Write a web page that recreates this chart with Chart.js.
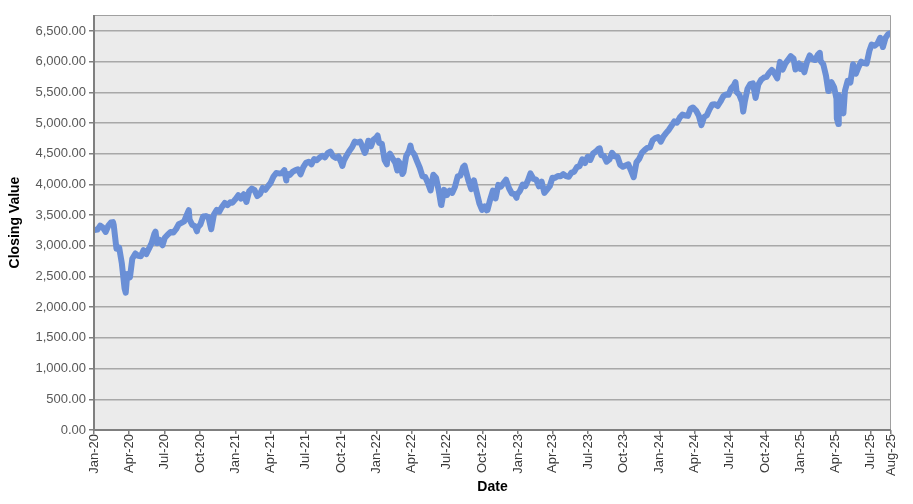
<!DOCTYPE html>
<html>
<head>
<meta charset="utf-8">
<script src="https://cdn.jsdelivr.net/npm/chart.js@4.4.1/dist/chart.umd.min.js"></script>
<style>
  html, body { margin: 0; padding: 0; background: #fff; }
  #wrap { width: 913px; height: 504px; }
</style>
</head>
<body>
<div id="wrap"><canvas id="closeChart" width="913" height="504"></canvas></div>
<script>
// trading dates (roughly weekly) and closing values
const dates = [
  '2020-01-02','2020-01-10','2020-01-17','2020-01-24','2020-01-31','2020-02-07','2020-02-14','2020-02-19','2020-02-21','2020-02-28',
  '2020-03-06','2020-03-13','2020-03-20','2020-03-23','2020-03-27','2020-04-03','2020-04-09','2020-04-17','2020-04-24','2020-05-01',
  '2020-05-08','2020-05-15','2020-05-22','2020-05-29','2020-06-05','2020-06-08','2020-06-12','2020-06-19','2020-06-26','2020-07-02',
  '2020-07-10','2020-07-17','2020-07-24','2020-07-31','2020-08-07','2020-08-14','2020-08-21','2020-08-28','2020-09-02','2020-09-04',
  '2020-09-11','2020-09-18','2020-09-23','2020-09-25','2020-10-02','2020-10-09','2020-10-16','2020-10-23','2020-10-30','2020-11-06',
  '2020-11-13','2020-11-20','2020-11-27','2020-12-04','2020-12-11','2020-12-18','2020-12-24','2020-12-31',
  '2021-01-08','2021-01-15','2021-01-22','2021-01-29','2021-02-05','2021-02-12','2021-02-19','2021-02-26','2021-03-05','2021-03-12',
  '2021-03-19','2021-03-26','2021-04-01','2021-04-09','2021-04-16','2021-04-23','2021-04-30','2021-05-07','2021-05-12','2021-05-14',
  '2021-05-21','2021-05-28','2021-06-04','2021-06-11','2021-06-18','2021-06-25','2021-07-02','2021-07-09','2021-07-16','2021-07-23',
  '2021-07-30','2021-08-06','2021-08-13','2021-08-20','2021-08-27','2021-09-03','2021-09-10','2021-09-17','2021-09-24','2021-10-01',
  '2021-10-04','2021-10-08','2021-10-15','2021-10-22','2021-10-29','2021-11-05','2021-11-12','2021-11-19','2021-11-26','2021-12-01',
  '2021-12-03','2021-12-10','2021-12-17','2021-12-23','2021-12-31',
  '2022-01-03','2022-01-07','2022-01-14','2022-01-21','2022-01-27','2022-01-28','2022-02-04','2022-02-11','2022-02-18','2022-02-23',
  '2022-02-25','2022-03-04','2022-03-08','2022-03-11','2022-03-18','2022-03-25','2022-03-29','2022-04-01','2022-04-08','2022-04-14',
  '2022-04-22','2022-04-29','2022-05-06','2022-05-13','2022-05-20','2022-05-27','2022-06-03','2022-06-10','2022-06-16','2022-06-17',
  '2022-06-24','2022-07-01','2022-07-08','2022-07-15','2022-07-22','2022-07-29','2022-08-05','2022-08-12','2022-08-16','2022-08-19',
  '2022-08-26','2022-09-02','2022-09-09','2022-09-16','2022-09-23','2022-09-30','2022-10-07','2022-10-12','2022-10-14','2022-10-21',
  '2022-10-28','2022-11-04','2022-11-11','2022-11-18','2022-11-25','2022-12-01','2022-12-09','2022-12-16','2022-12-23','2022-12-28',
  '2022-12-30',
  '2023-01-06','2023-01-13','2023-01-20','2023-01-27','2023-02-02','2023-02-10','2023-02-17','2023-02-24','2023-03-03','2023-03-10',
  '2023-03-17','2023-03-24','2023-03-31','2023-04-06','2023-04-14','2023-04-21','2023-04-28','2023-05-05','2023-05-12','2023-05-19',
  '2023-05-26','2023-06-02','2023-06-09','2023-06-16','2023-06-23','2023-06-30','2023-07-07','2023-07-14','2023-07-21','2023-07-28',
  '2023-07-31','2023-08-04','2023-08-11','2023-08-18','2023-08-25','2023-09-01','2023-09-08','2023-09-15','2023-09-22','2023-09-29',
  '2023-10-06','2023-10-13','2023-10-20','2023-10-27','2023-11-03','2023-11-10','2023-11-17','2023-11-24','2023-12-01','2023-12-08',
  '2023-12-15','2023-12-22','2023-12-29',
  '2024-01-05','2024-01-12','2024-01-19','2024-01-26','2024-02-02','2024-02-09','2024-02-16','2024-02-23','2024-03-01','2024-03-08',
  '2024-03-15','2024-03-22','2024-03-28','2024-04-05','2024-04-12','2024-04-19','2024-04-26','2024-05-03','2024-05-10','2024-05-17',
  '2024-05-24','2024-05-31','2024-06-07','2024-06-14','2024-06-21','2024-06-28','2024-07-05','2024-07-12','2024-07-16','2024-07-19',
  '2024-07-26','2024-08-02','2024-08-05','2024-08-09','2024-08-16','2024-08-23','2024-08-30','2024-09-06','2024-09-13','2024-09-20',
  '2024-09-27','2024-10-04','2024-10-11','2024-10-18','2024-10-25','2024-11-01','2024-11-08','2024-11-15','2024-11-22','2024-11-29',
  '2024-12-06','2024-12-13','2024-12-18','2024-12-20','2024-12-27','2024-12-31',
  '2025-01-03','2025-01-10','2025-01-17','2025-01-24','2025-01-31','2025-02-07','2025-02-14','2025-02-19','2025-02-21','2025-02-28',
  '2025-03-07','2025-03-13','2025-03-14','2025-03-21','2025-03-28','2025-04-03','2025-04-04','2025-04-08','2025-04-09','2025-04-11',
  '2025-04-17','2025-04-21','2025-04-25','2025-05-02','2025-05-09','2025-05-16','2025-05-23','2025-05-30','2025-06-06','2025-06-13',
  '2025-06-20','2025-06-27','2025-07-03','2025-07-11','2025-07-18','2025-07-25','2025-08-01','2025-08-08','2025-08-15','2025-08-22'
];
const closes = [
  3258,3265,3330,3295,3226,3328,3380,3386,3338,2954,
  2972,2711,2305,2237,2541,2489,2790,2875,2837,2831,
  2930,2864,2955,3044,3194,3232,3041,3098,3009,3130,
  3185,3225,3216,3271,3351,3373,3397,3508,3580,3427,
  3341,3319,3237,3298,3348,3477,3484,3465,3270,3510,
  3585,3558,3638,3699,3663,3709,3703,3756,
  3825,3768,3841,3714,3887,3934,3907,3811,3842,3943,
  3913,3975,4020,4129,4185,4180,4181,4233,4063,4174,
  4156,4204,4230,4247,4166,4281,4352,4370,4327,4412,
  4395,4437,4468,4442,4509,4535,4459,4433,4455,4357,
  4300,4391,4471,4545,4605,4697,4683,4698,4595,4513,
  4538,4712,4621,4726,4766,
  4797,4677,4663,4398,4327,4432,4501,4419,4349,4226,
  4385,4329,4171,4204,4463,4543,4632,4546,4488,4393,
  4272,4132,4123,4024,3901,4158,4109,3901,3667,3675,
  3912,3825,3899,3863,3962,4130,4145,4280,4305,4228,
  4058,3924,4067,3873,3693,3586,3640,3577,3583,3753,
  3901,3771,3993,3965,4026,4077,3934,3852,3845,3783,
  3840,
  3895,3999,3973,4071,4180,4090,4079,3970,4046,3862,
  3917,3971,4109,4105,4138,4133,4169,4136,4124,4192,
  4205,4282,4299,4410,4348,4450,4399,4505,4536,4582,
  4589,4478,4464,4370,4406,4516,4457,4450,4320,4288,
  4309,4328,4224,4117,4358,4415,4514,4559,4595,4604,
  4719,4755,4770,
  4697,4784,4840,4891,4959,5027,5006,5089,5137,5124,
  5117,5234,5254,5204,5123,4967,5100,5128,5223,5303,
  5305,5278,5347,5432,5465,5460,5567,5615,5667,5505,
  5459,5346,5186,5344,5554,5635,5648,5408,5626,5703,
  5738,5751,5815,5865,5808,5729,5996,5871,5969,6032,
  6090,6051,5872,5931,5971,5882,
  5942,5827,5997,6101,6041,6026,6115,6144,6013,5955,
  5770,5522,5639,5668,5581,5397,5074,4983,5457,5363,
  5283,5158,5525,5687,5660,5958,5803,5912,6000,5977,
  5967,6173,6279,6260,6297,6389,6238,6389,6450,6467
];
// x axis labels: quarter starts plus the last day
const tickDates = [
  '2020-01-01','2020-04-01','2020-07-01','2020-10-01','2021-01-01','2021-04-01','2021-07-01','2021-10-01',
  '2022-01-01','2022-04-01','2022-07-01','2022-10-01','2023-01-01','2023-04-01','2023-07-01','2023-10-01',
  '2024-01-01','2024-04-01','2024-07-01','2024-10-01','2025-01-01','2025-04-01','2025-07-01','2025-08-22'
];
const yTicks = [0,500,1000,1500,2000,2500,3000,3500,4000,4500,5000,5500,6000,6500];

const MONTHS = ['Jan','Feb','Mar','Apr','May','Jun','Jul','Aug','Sep','Oct','Nov','Dec'];
const BASE = Date.UTC(2020, 0, 1);
function dayNum(s) {
  const p = s.split('-').map(Number);
  return (Date.UTC(p[0], p[1] - 1, p[2]) - BASE) / 86400000;
}
function monLabel(s) {
  const p = s.split('-').map(Number);
  return MONTHS[p[1] - 1] + '-' + String(p[0]).slice(2);
}

const points = dates.map((d, i) => ({ x: dayNum(d), y: closes[i] }));
const tickDays = tickDates.map(dayNum);
const tickText = {};
tickDates.forEach(d => { tickText[dayNum(d)] = monLabel(d); });

// grey plot background and frame
const plotFrame = {
  id: 'plotFrame',
  beforeDraw(chart) {
    const { ctx, chartArea: a } = chart;
    ctx.save();
    ctx.fillStyle = '#ebebeb';
    ctx.fillRect(a.left, a.top, a.right - a.left, a.bottom - a.top);
    ctx.restore();
  },
  afterDraw(chart) {
    const { ctx, chartArea: a } = chart;
    ctx.save();
    ctx.strokeStyle = '#a0a0a0';
    ctx.lineWidth = 1;
    ctx.beginPath();
    ctx.moveTo(a.left, a.top + 0.5);
    ctx.lineTo(a.right - 0.5, a.top + 0.5);
    ctx.lineTo(a.right - 0.5, a.bottom);
    ctx.stroke();
    ctx.strokeStyle = '#7f7f7f';
    ctx.lineWidth = 2;
    ctx.beginPath();
    ctx.moveTo(a.left, a.top);
    ctx.lineTo(a.left, a.bottom);
    ctx.lineTo(a.right, a.bottom);
    ctx.stroke();
    ctx.restore();
  }
};

const ctx = document.getElementById('closeChart').getContext('2d');
new Chart(ctx, {
  type: 'line',
  data: {
    datasets: [{
      label: 'Closing Value',
      data: points,
      borderColor: '#6a8fd6',
      borderWidth: 6,
      borderJoinStyle: 'round',
      pointRadius: 0,
      tension: 0,
      fill: false
    }]
  },
  options: {
    responsive: false,
    animation: false,
    layout: { padding: { left: 7, right: 22, top: 15, bottom: 8 } },
    plugins: {
      legend: { display: false },
      tooltip: { enabled: false }
    },
    scales: {
      x: {
        type: 'linear',
        min: 0,
        max: dayNum('2025-08-22'),
        afterBuildTicks(scale) { scale.ticks = tickDays.map(v => ({ value: v })); },
        afterFit(scale) { scale.height = 66; },
        grid: {
          drawOnChartArea: false,
          drawTicks: true,
          tickLength: 4,
          tickColor: '#7f7f7f',
          lineWidth: 1.5
        },
        border: { display: false },
        ticks: {
          autoSkip: false,
          maxRotation: 90,
          minRotation: 90,
          color: '#3a3a3a',
          font: { family: 'Liberation Sans, Arial, sans-serif', size: 13 },
          padding: 0,
          callback: v => tickText[v] || ''
        },
        title: {
          display: true,
          text: 'Date',
          color: '#000',
          font: { family: 'Liberation Sans, Arial, sans-serif', size: 14, weight: 'bold' },
          padding: { top: 0, bottom: 0 }
        }
      },
      y: {
        min: 0,
        max: 6760,
        afterBuildTicks(scale) { scale.ticks = yTicks.map(v => ({ value: v })); },
        afterFit(scale) { scale.width = 87; },
        grid: {
          color: '#a8a8a8',
          lineWidth: 1.5,
          tickLength: 5,
          tickColor: '#7f7f7f'
        },
        border: { display: false },
        ticks: {
          color: '#595959',
          font: { family: 'Liberation Sans, Arial, sans-serif', size: 13 },
          padding: 3,
          callback: v => v.toLocaleString('en-US', { minimumFractionDigits: 2, maximumFractionDigits: 2 })
        },
        title: {
          display: true,
          text: 'Closing Value',
          color: '#000',
          font: { family: 'Liberation Sans, Arial, sans-serif', size: 14, weight: 'bold' },
          padding: { top: 0, bottom: 4 }
        }
      }
    }
  },
  plugins: [plotFrame]
});
</script>
</body>
</html>
